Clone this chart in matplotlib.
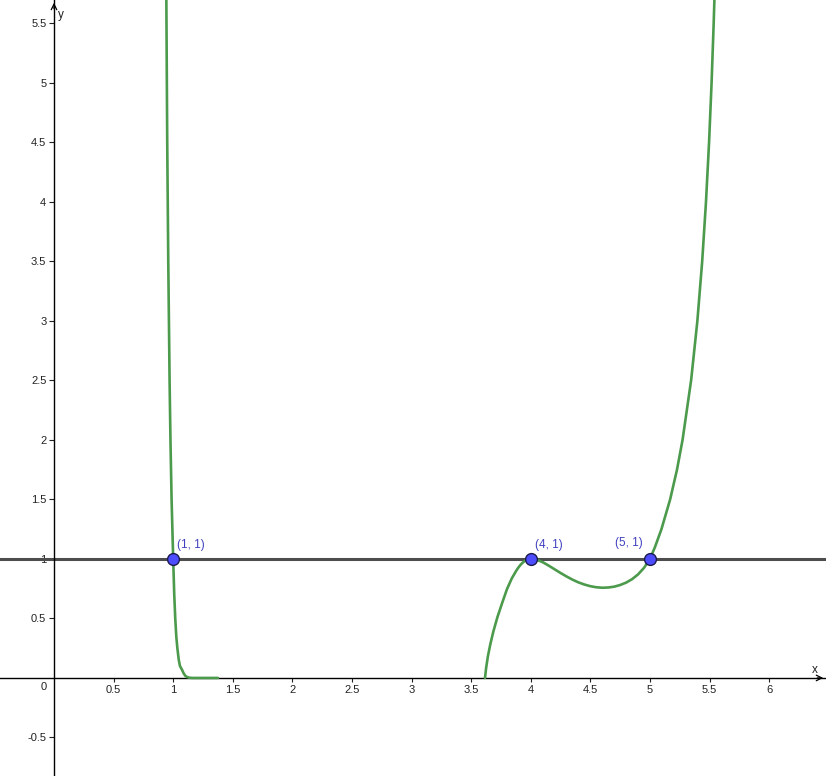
import matplotlib.pyplot as plt

# values
left_x = [0.942, 0.950, 0.9587, 0.9698, 0.9771, 0.9866, 1.0, 1.0089, 1.0173,
          1.026, 1.035, 1.047, 1.057, 1.075, 1.087, 1.1, 1.115, 1.135, 1.16, 1.376]
left_y = [5.8, 4.5, 3.5, 2.5, 2.0, 1.5, 1.0, 0.7, 0.5,
          0.35, 0.25, 0.15, 0.1, 0.067, 0.04, 0.02, 0.008, 0.002, 0.0, 0.0]

right_x = [3.616, 3.625, 3.64, 3.66, 3.686, 3.72, 3.76, 3.8, 3.84, 3.88,
           3.9, 3.92, 3.94, 3.96, 3.98, 4.0, 4.05, 4.1, 4.15, 4.2, 4.25, 4.3, 4.35,
           4.4, 4.45, 4.5, 4.55, 4.6, 4.65, 4.7, 4.75, 4.8, 4.85, 4.9, 4.95, 5.0,
           5.0422, 5.0964, 5.1693, 5.2268, 5.2735, 5.3452, 5.3978, 5.4382, 5.4701,
           5.4959, 5.517, 5.5346, 5.5439]
right_y = [0.0, 0.08, 0.18, 0.28, 0.39, 0.51, 0.63, 0.745, 0.835, 0.904,
           0.933, 0.957, 0.976, 0.989, 0.997, 1.0, 0.993, 0.973, 0.944, 0.913,
           0.882, 0.853, 0.826, 0.803, 0.785, 0.771, 0.762, 0.758, 0.76, 0.767,
           0.781, 0.801, 0.83, 0.87, 0.925, 1.0,
           1.1, 1.25, 1.5, 1.75, 2.0, 2.5, 3.0, 3.5, 4.0,
           4.5, 5.0, 5.5, 5.8]

line_y = 1
points_x = [1, 4, 5]
points_y = [1, 1, 1]
point_labels = ["(1, 1)", "(4, 1)", "(5, 1)"]

x_ticks = [0.5, 1, 1.5, 2, 2.5, 3, 3.5, 4, 4.5, 5, 5.5, 6]
y_ticks = [-0.5, 0.5, 1, 1.5, 2, 2.5, 3, 3.5, 4, 4.5, 5, 5.5]

plt.rcParams["font.family"] = ["Liberation Sans", "DejaVu Sans"]

fig = plt.figure(figsize=(8.26, 7.76), dpi=100)
ax = fig.add_axes([0, 0, 1, 1])
ax.set_xlim(-0.453, 6.477)
ax.set_ylim(-0.824, 5.697)

# axes through the origin, geogebra style
ax.spines["left"].set_position(("data", 0))
ax.spines["bottom"].set_position(("data", 0))
ax.spines["top"].set_visible(False)
ax.spines["right"].set_visible(False)
ax.spines["left"].set_linewidth(1)
ax.spines["bottom"].set_linewidth(1)

ax.set_xticks(x_ticks)
ax.set_xticklabels([f"{t:g}" for t in x_ticks])
ax.set_yticks(y_ticks)
ax.set_yticklabels([f"{t:g}" for t in y_ticks])
ax.tick_params(axis="x", direction="out", length=3, width=0.8, pad=2,
               labelsize=8, colors="#222222")
ax.tick_params(axis="y", direction="out", length=3.5, width=0.8, pad=2,
               labelsize=8, colors="#222222")
ax.text(-0.09, -0.08, "0", fontsize=8, color="#222222", ha="center", va="center")

# arrows and axis names
ax.annotate("", xy=(6.477, 0), xytext=(6.38, 0),
            arrowprops=dict(arrowstyle="->", lw=0.9, color="black"))
ax.annotate("", xy=(0, 5.697), xytext=(0, 5.6),
            arrowprops=dict(arrowstyle="->", lw=0.9, color="black"))
ax.text(6.38, 0.07, "x", fontsize=8.5, color="#222222", ha="center", va="center")
ax.text(0.06, 5.57, "y", fontsize=8.5, color="#222222", ha="center", va="center")

ax.axhline(line_y, color="#4d4d4d", lw=2.2, zorder=2)

ax.plot(left_x, left_y, color="#4c9a4c", lw=1.9, zorder=3, solid_capstyle="round",
        solid_joinstyle="round")
ax.plot(right_x, right_y, color="#4c9a4c", lw=1.9, zorder=3, solid_capstyle="round",
        solid_joinstyle="round")

ax.plot(points_x, points_y, "o", ms=8.5, mfc="#4d4dff", mec="#1a1a4d", mew=1, zorder=5)

offsets = [(3, 6), (3, 6), (-5, 7)]
aligns = ["left", "left", "right"]
for px, py, lab, off, ha in zip(points_x, points_y, point_labels, offsets, aligns):
    ax.annotate(lab, (px, py), xytext=off, textcoords="offset points",
                ha=ha, va="bottom", fontsize=8.5, color="#4040c0")

plt.savefig("out.png", dpi=100)
